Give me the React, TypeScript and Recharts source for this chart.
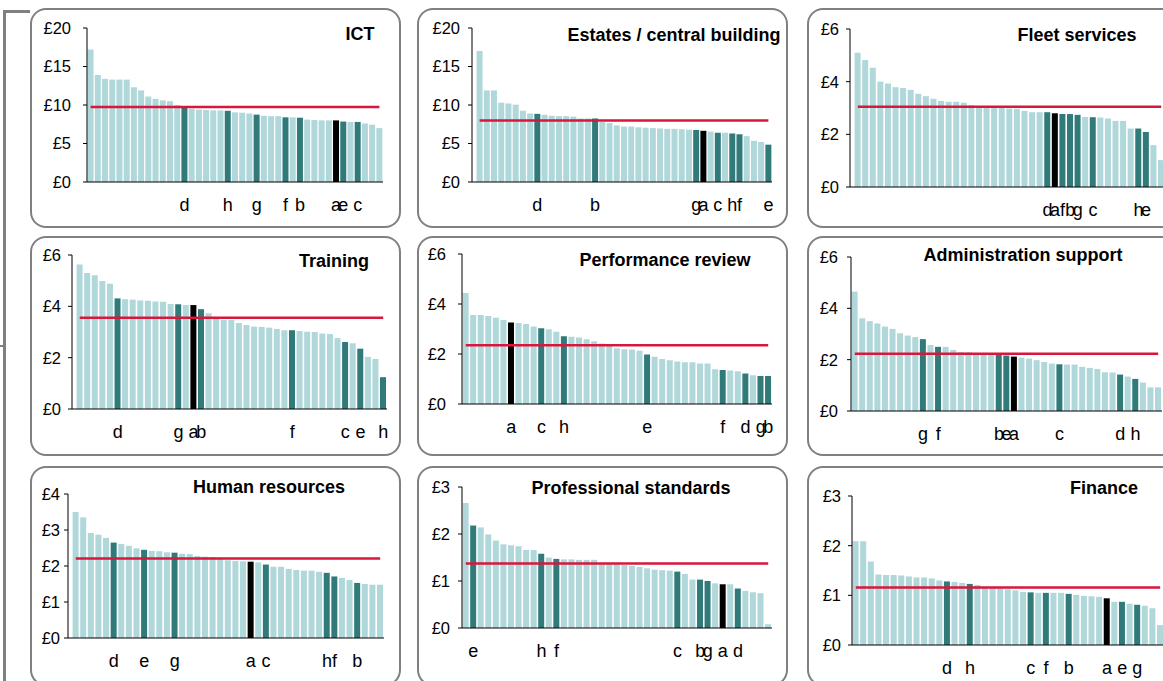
import React from 'react'
import { ComposedChart, Bar, Line, XAxis, YAxis, Cell } from 'recharts'

// spend per head, one bar per force, sorted high to low; letters mark the most similar forces
const ictValues = [17.2, 13.9, 13.4, 13.3, 13.3, 13.3, 12.3, 11.9, 11.1, 10.8, 10.6, 10.5, 10.0, 9.8, 9.5, 9.4, 9.35, 9.3, 9.3, 9.25, 9.05, 9.0, 8.9, 8.75, 8.6, 8.55, 8.55, 8.4, 8.4, 8.35, 8.1, 8.05, 8.0, 8.0, 8.0, 7.85, 7.8, 7.8, 7.6, 7.45, 7.0]
const ictLetters: [number, string][] = [[13, 'd'], [19, 'h'], [23, 'g'], [27, 'f'], [29, 'b'], [34, 'a'], [35, 'e'], [37, 'c']]
const ictAverage = 9.75

const estatesValues = [17.0, 11.9, 11.9, 10.3, 10.2, 10.05, 9.25, 8.9, 8.85, 8.75, 8.6, 8.55, 8.55, 8.5, 8.25, 8.25, 8.25, 7.8, 7.65, 7.35, 7.2, 7.2, 7.1, 7.05, 7.0, 6.95, 6.9, 6.9, 6.85, 6.8, 6.75, 6.65, 6.55, 6.4, 6.4, 6.3, 6.2, 5.95, 5.35, 5.2, 4.85]
const estatesLetters: [number, string][] = [[8, 'd'], [16, 'b'], [30, 'g'], [31, 'a'], [33, 'c'], [35, 'h'], [36, 'f'], [40, 'e']]
const estatesAverage = 8.0

const fleetValues = [5.1, 4.82, 4.53, 4.0, 3.93, 3.79, 3.76, 3.69, 3.54, 3.45, 3.35, 3.27, 3.24, 3.24, 3.2, 3.11, 3.07, 3.06, 3.05, 3.02, 2.98, 2.97, 2.89, 2.84, 2.84, 2.84, 2.8, 2.77, 2.77, 2.74, 2.66, 2.65, 2.64, 2.6, 2.51, 2.51, 2.22, 2.22, 2.09, 1.59, 1.02]
const fleetLetters: [number, string][] = [[25, 'd'], [26, 'a'], [27, 'f'], [28, 'b'], [29, 'g'], [31, 'c'], [37, 'h'], [38, 'e']]
const fleetAverage = 3.05

const trainingValues = [5.63, 5.3, 5.21, 4.99, 4.88, 4.31, 4.28, 4.26, 4.23, 4.22, 4.19, 4.18, 4.09, 4.08, 4.05, 4.05, 3.89, 3.73, 3.57, 3.47, 3.47, 3.35, 3.27, 3.21, 3.2, 3.17, 3.12, 3.07, 3.07, 3.04, 3.01, 3.0, 2.94, 2.92, 2.76, 2.61, 2.56, 2.35, 2.03, 1.95, 1.24]
const trainingLetters: [number, string][] = [[5, 'd'], [13, 'g'], [15, 'a'], [16, 'b'], [28, 'f'], [35, 'c'], [37, 'e'], [40, 'h']]
const trainingAverage = 3.56

const performanceValues = [4.44, 3.56, 3.56, 3.52, 3.45, 3.36, 3.26, 3.24, 3.2, 3.1, 3.03, 2.99, 2.89, 2.71, 2.69, 2.66, 2.59, 2.51, 2.42, 2.39, 2.23, 2.19, 2.18, 2.13, 1.98, 1.89, 1.8, 1.75, 1.7, 1.67, 1.67, 1.62, 1.62, 1.39, 1.36, 1.34, 1.31, 1.22, 1.15, 1.12, 1.12]
const performanceLetters: [number, string][] = [[6, 'a'], [10, 'c'], [13, 'h'], [24, 'e'], [34, 'f'], [37, 'd'], [39, 'g'], [40, 'b']]
const performanceAverage = 2.35

const adminValues = [4.65, 3.61, 3.5, 3.41, 3.29, 3.2, 3.03, 2.94, 2.88, 2.8, 2.57, 2.5, 2.5, 2.38, 2.3, 2.29, 2.25, 2.25, 2.23, 2.2, 2.16, 2.12, 2.08, 2.04, 1.98, 1.91, 1.85, 1.82, 1.81, 1.81, 1.72, 1.68, 1.64, 1.51, 1.5, 1.42, 1.34, 1.25, 1.11, 0.92, 0.92]
const adminLetters: [number, string][] = [[9, 'g'], [11, 'f'], [19, 'b'], [20, 'e'], [21, 'a'], [27, 'c'], [35, 'd'], [37, 'h']]
const adminAverage = 2.23

const hrValues = [3.5, 3.35, 2.92, 2.87, 2.78, 2.65, 2.61, 2.56, 2.49, 2.45, 2.42, 2.41, 2.38, 2.37, 2.34, 2.33, 2.28, 2.26, 2.25, 2.2, 2.16, 2.14, 2.13, 2.12, 2.1, 2.04, 1.98, 1.98, 1.92, 1.89, 1.87, 1.87, 1.84, 1.81, 1.71, 1.67, 1.61, 1.53, 1.5, 1.48, 1.48]
const hrLetters: [number, string][] = [[5, 'd'], [9, 'e'], [13, 'g'], [23, 'a'], [25, 'c'], [33, 'h'], [34, 'f'], [37, 'b']]
const hrAverage = 2.21

const standardsValues = [2.66, 2.18, 2.14, 1.99, 1.86, 1.78, 1.76, 1.74, 1.66, 1.66, 1.58, 1.5, 1.47, 1.46, 1.46, 1.45, 1.45, 1.45, 1.38, 1.37, 1.36, 1.34, 1.32, 1.3, 1.27, 1.24, 1.23, 1.22, 1.2, 1.15, 1.03, 1.03, 1.0, 0.95, 0.93, 0.93, 0.84, 0.79, 0.76, 0.74, 0.08]
const standardsLetters: [number, string][] = [[1, 'e'], [10, 'h'], [12, 'f'], [28, 'c'], [31, 'b'], [32, 'g'], [34, 'a'], [36, 'd']]
const standardsAverage = 1.37

const financeValues = [2.09, 2.09, 1.68, 1.42, 1.41, 1.41, 1.4, 1.38, 1.36, 1.36, 1.34, 1.3, 1.28, 1.27, 1.25, 1.23, 1.21, 1.17, 1.15, 1.14, 1.12, 1.1, 1.07, 1.06, 1.05, 1.05, 1.05, 1.05, 1.03, 1.01, 0.99, 0.98, 0.97, 0.94, 0.87, 0.87, 0.83, 0.81, 0.79, 0.74, 0.4]
const financeLetters: [number, string][] = [[12, 'd'], [15, 'h'], [23, 'c'], [25, 'f'], [28, 'b'], [33, 'a'], [35, 'e'], [37, 'g']]
const financeAverage = 1.16

const ticks20 = [0, 5, 10, 15, 20]
const ticks6 = [0, 2, 4, 6]
const ticks4 = [0, 1, 2, 3, 4]
const ticks3 = [0, 1, 2, 3]

const FONT = '"Liberation Sans", Arial, Helvetica, sans-serif'
const LIGHT = '#b0d7da'
const DARK = '#317a7a'
const RED = '#d7173c'
const W = 371
const H = 220

// layout measured per panel (relative to the box corner)
const panels = [
  { title: 'ICT', values: ictValues, letters: ictLetters, avg: ictAverage, ticks: ticks20, left: 30, top: 8, axisX: 57, right: 353, plotTop: 20, plotBottom: 174, padLeft: 0, gap: 12, titleX: 330, titleY: 26 },
  { title: 'Estates / central building', values: estatesValues, letters: estatesLetters, avg: estatesAverage, ticks: ticks20, left: 417, top: 8, axisX: 55, right: 355, plotTop: 20, plotBottom: 174, padLeft: 4, gap: 8, titleX: 257, titleY: 27 },
  { title: 'Fleet services', values: fleetValues, letters: fleetLetters, avg: fleetAverage, ticks: ticks6, left: 807, top: 8, axisX: 43, right: 358, plotTop: 21, plotBottom: 179, padLeft: 4, gap: 7, titleX: 270, titleY: 27 },
  { title: 'Training', values: trainingValues, letters: trainingLetters, avg: trainingAverage, ticks: ticks6, left: 30, top: 236, axisX: 42, right: 357, plotTop: 19, plotBottom: 173, padLeft: 4, gap: 7, titleX: 304, titleY: 25 },
  { title: 'Performance review', values: performanceValues, letters: performanceLetters, avg: performanceAverage, ticks: ticks6, left: 417, top: 236, axisX: 45, right: 355, plotTop: 18, plotBottom: 168, padLeft: 0, gap: 12, titleX: 248, titleY: 24 },
  { title: 'Administration support', values: adminValues, letters: adminLetters, avg: adminAverage, ticks: ticks6, left: 807, top: 236, axisX: 44, right: 355, plotTop: 21, plotBottom: 175, padLeft: 0, gap: 9, titleX: 216, titleY: 19 },
  { title: 'Human resources', values: hrValues, letters: hrLetters, avg: hrAverage, ticks: ticks4, left: 30, top: 466, axisX: 38, right: 354, plotTop: 28, plotBottom: 172, padLeft: 4, gap: 4, titleX: 239, titleY: 21 },
  { title: 'Professional standards', values: standardsValues, letters: standardsLetters, avg: standardsAverage, ticks: ticks3, left: 417, top: 466, axisX: 45, right: 355, plotTop: 21, plotBottom: 162, padLeft: 0, gap: 8, titleX: 214, titleY: 22 },
  { title: 'Finance', values: financeValues, letters: financeLetters, avg: financeAverage, ticks: ticks3, left: 807, top: 466, axisX: 45, right: 357, plotTop: 30, plotBottom: 179, padLeft: 0, gap: 7, titleX: 297, titleY: 22 },
]

type PanelConfig = (typeof panels)[number]

function LetterTick(props: any) {
  const { x, y, payload, letterAt } = props
  const letter = letterAt.get(payload.value)
  if (!letter) return <g />
  return (
    <text x={x} y={y + 28.5} textAnchor="middle" fontSize={18} fill="#000" fontFamily={FONT}>
      {letter}
    </text>
  )
}

function Panel({ cfg }: { cfg: PanelConfig }) {
  const letterAt = new Map(cfg.letters)
  const data = cfg.values.map((v, i) => ({ idx: i, value: v, avg: cfg.avg }))
  const yMax = cfg.ticks[cfg.ticks.length - 1]

  return (
    <div style={{ position: 'absolute', left: cfg.left, top: cfg.top, width: W, height: H }}>
      <div
        style={{
          position: 'absolute',
          inset: 0,
          border: '2px solid #808080',
          borderRadius: 16,
          boxSizing: 'border-box',
        }}
      />
      <div style={{ position: 'absolute', left: 0, top: 0 }}>
        <ComposedChart
          width={W}
          height={H}
          data={data}
          margin={{ top: cfg.plotTop, right: W - cfg.right, bottom: 0, left: 0 }}
          barCategoryGap="8%"
        >
          <XAxis
            dataKey="idx"
            type="category"
            interval={0}
            height={H - cfg.plotBottom}
            axisLine={{ stroke: '#000' }}
            tickLine={false}
            tickSize={0}
            tickMargin={0}
            padding={{ left: cfg.padLeft, right: 0 }}
            tick={(p: any) => <LetterTick {...p} letterAt={letterAt} />}
          />
          <YAxis
            width={cfg.axisX}
            domain={[0, yMax]}
            ticks={cfg.ticks}
            allowDataOverflow
            tickSize={4}
            tickMargin={cfg.gap}
            tickFormatter={(v: number) => `£${v}`}
            axisLine={{ stroke: '#000' }}
            tickLine={{ stroke: '#000' }}
            tick={{ fontSize: 16.5, fill: '#000', fontFamily: FONT }}
          />
          <Bar dataKey="value" isAnimationActive={false}>
            {data.map((d, i) => {
              const letter = letterAt.get(i)
              const fill = letter === 'a' ? '#000' : letter ? DARK : LIGHT
              return <Cell key={i} fill={fill} />
            })}
          </Bar>
          <Line
            dataKey="avg"
            type="linear"
            stroke={RED}
            strokeWidth={2.5}
            dot={false}
            activeDot={false}
            isAnimationActive={false}
          />
        </ComposedChart>
      </div>
      <div
        style={{
          position: 'absolute',
          left: cfg.titleX,
          top: cfg.titleY,
          transform: 'translate(-50%, -50%)',
          whiteSpace: 'nowrap',
          fontFamily: FONT,
          fontWeight: 'bold',
          fontSize: 18,
          color: '#000',
        }}
      >
        {cfg.title}
      </div>
    </div>
  )
}

export default function App() {
  return (
    <div
      style={{
        position: 'absolute',
        left: 0,
        top: 0,
        width: 1163,
        height: 681,
        overflow: 'hidden',
        background: '#fff',
        fontFamily: FONT,
      }}
    >
      {/* bracket on the left edge */}
      <div style={{ position: 'absolute', left: 3, top: 10, width: 3, height: 700, background: '#808080' }} />
      <div style={{ position: 'absolute', left: 3, top: 10, width: 27, height: 3, background: '#808080' }} />
      <div style={{ position: 'absolute', left: 0, top: 345, width: 4, height: 2, background: '#808080' }} />
      {panels.map(cfg => (
        <Panel key={cfg.title} cfg={cfg} />
      ))}
    </div>
  )
}
